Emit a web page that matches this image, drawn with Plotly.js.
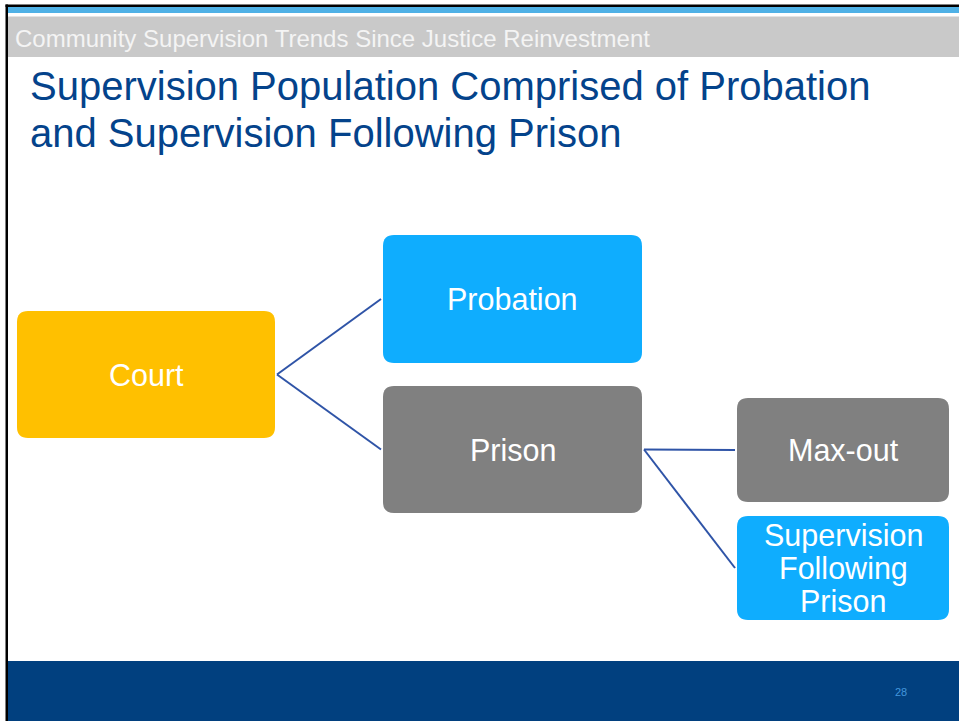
<!DOCTYPE html>
<html>
<head>
<meta charset="utf-8">
<script src="https://cdn.plot.ly/plotly-3.0.1.min.js"></script>
<style>
html,body{margin:0;padding:0;background:#fff;overflow:hidden;}
#chart{width:959px;height:721px;}
</style>
</head>
<body>
<div id="chart"></div>
<script>
// ---- content ----
const headerText = 'Community Supervision Trends Since Justice Reinvestment';
const titleLines = ['Supervision Population Comprised of Probation', 'and Supervision Following Prison'];
const pageNumber = '28';
const nodeLabels = ['Court', 'Probation', 'Prison', 'Max-out', 'Supervision\nFollowing\nPrison'];
const edgeFrom = [0, 0, 2, 2];
const edgeTo = [1, 2, 3, 4];

// ---- layout / styles (kept separate from content) ----
const W = 959, H = 721;
const nodeBoxes = [
  [17, 311, 275, 438],
  [383, 235, 642, 363],
  [383, 386, 642, 513],
  [737, 398, 949, 502],
  [737, 516, 949, 620]
];
const nodeFill = ['#ffc000', '#0fadfe', '#808080', '#808080', '#0fadfe'];
const FONT = 'Liberation Sans';

function roundRect(x0, y0, x1, y1, r) {
  return 'M' + (x0 + r) + ',' + y0 +
    ' L' + (x1 - r) + ',' + y0 + ' Q' + x1 + ',' + y0 + ' ' + x1 + ',' + (y0 + r) +
    ' L' + x1 + ',' + (y1 - r) + ' Q' + x1 + ',' + y1 + ' ' + (x1 - r) + ',' + y1 +
    ' L' + (x0 + r) + ',' + y1 + ' Q' + x0 + ',' + y1 + ' ' + x0 + ',' + (y1 - r) +
    ' L' + x0 + ',' + (y0 + r) + ' Q' + x0 + ',' + y0 + ' ' + (x0 + r) + ',' + y0 + ' Z';
}

const shapes = [];
// slide chrome
shapes.push({type: 'rect', xref: 'x', yref: 'y', x0: 5.5, x1: W, y0: 4.5, y1: 7, fillcolor: '#000', line: {width: 0}, layer: 'below'});
shapes.push({type: 'rect', xref: 'x', yref: 'y', x0: 8, x1: W, y0: 7, y1: 13, fillcolor: '#4fb1e6', line: {width: 0}, layer: 'below'});
shapes.push({type: 'rect', xref: 'x', yref: 'y', x0: 8, x1: W, y0: 16.5, y1: 57, fillcolor: '#c9c9c9', line: {width: 0}, layer: 'below'});
shapes.push({type: 'rect', xref: 'x', yref: 'y', x0: 8, x1: W, y0: 661, y1: H, fillcolor: '#01407f', line: {width: 0}, layer: 'below'});
shapes.push({type: 'rect', xref: 'x', yref: 'y', x0: 5.5, x1: 8, y0: 4.5, y1: H, fillcolor: '#000', line: {width: 0}, layer: 'below'});

// node boxes
nodeBoxes.forEach(function (b, i) {
  shapes.push({type: 'path', xref: 'x', yref: 'y', path: roundRect(b[0], b[1], b[2], b[3], 11),
    fillcolor: nodeFill[i], line: {width: 0}, layer: 'below'});
});

// connectors
const traces = edgeFrom.map(function (f, k) {
  const a = nodeBoxes[f], b = nodeBoxes[edgeTo[k]];
  return {
    type: 'scatter', mode: 'lines', hoverinfo: 'skip', showlegend: false,
    x: [a[2] + 2, b[0] - 2],
    y: [(a[1] + a[3]) / 2, (b[1] + b[3]) / 2],
    line: {color: '#2f54a7', width: 2}
  };
});

const annotations = [];
annotations.push({xref: 'x', yref: 'y', x: 13, y: 38.5, xanchor: 'left', yanchor: 'middle', showarrow: false,
  text: headerText, font: {family: FONT, size: 24, color: '#f4f4f4'}});
titleLines.forEach(function (t, i) {
  annotations.push({xref: 'x', yref: 'y', x: 28, y: 86 + i * 47, xanchor: 'left', yanchor: 'middle', showarrow: false,
    text: t, font: {family: FONT, size: 40, color: '#04438b'}});
});
annotations.push({xref: 'x', yref: 'y', x: 901, y: 692, xanchor: 'center', yanchor: 'middle', showarrow: false,
  text: pageNumber, font: {family: FONT, size: 11, color: '#4396dc'}});

nodeLabels.forEach(function (lab, i) {
  const b = nodeBoxes[i];
  const lines = lab.split('\n');
  const cx = (b[0] + b[2]) / 2, cy = (b[1] + b[3]) / 2;
  const gap = 32.5;
  lines.forEach(function (ln, j) {
    annotations.push({xref: 'x', yref: 'y', x: cx, y: cy + (j - (lines.length - 1) / 2) * gap,
      xanchor: 'center', yanchor: 'middle', showarrow: false,
      text: ln, font: {family: FONT, size: 30.5, color: '#ffffff'}});
  });
});

const layout = {
  width: W, height: H,
  margin: {l: 0, r: 0, t: 0, b: 0, pad: 0},
  paper_bgcolor: '#ffffff', plot_bgcolor: '#ffffff',
  xaxis: {range: [0, W], visible: false, fixedrange: true},
  yaxis: {range: [H, 0], visible: false, fixedrange: true},
  showlegend: false,
  shapes: shapes,
  annotations: annotations
};

Plotly.newPlot('chart', traces, layout, {displayModeBar: false, staticPlot: true});
</script>
</body>
</html>
